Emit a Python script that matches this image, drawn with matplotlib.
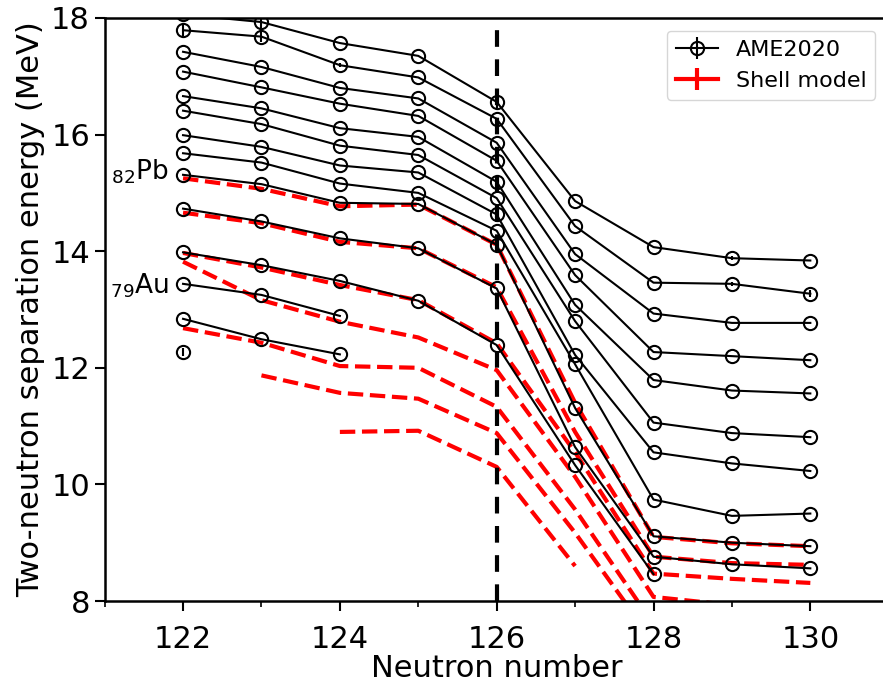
import numpy as np
import matplotlib
matplotlib.use("Agg")
import matplotlib.pyplot as plt
from matplotlib.ticker import MultipleLocator

nan = np.nan

# Neutron numbers shared by every chain
neutrons = [122, 123, 124, 125, 126, 127, 128, 129, 130]

# AME2020 two-neutron separation energies (MeV), one chain per element
ame_th = [18.06, 17.93, 17.57, 17.35, 16.56, 14.86, 14.07, 13.88, 13.84]
ame_ac = [17.79, 17.68, 17.19, 16.98, 16.27, 14.43, 13.46, 13.44, 13.27]
ame_ra = [17.42, 17.16, 16.80, 16.62, 15.86, 13.95, 12.93, 12.77, 12.77]
ame_fr = [17.08, 16.81, 16.53, 16.32, 15.55, 13.59, 12.27, 12.20, 12.13]
ame_rn = [16.66, 16.45, 16.11, 15.96, 15.19, 13.08, 11.79, 11.61, 11.56]
ame_at = [16.41, 16.18, 15.81, 15.65, 14.91, 12.80, 11.06, 10.88, 10.81]
ame_po = [15.99, 15.79, 15.47, 15.35, 14.63, 12.22, 10.55, 10.36, 10.23]
ame_bi = [15.68, 15.52, 15.16, 15.00, 14.35, 12.06, 9.74, 9.46, 9.50]
ame_pb = [15.31, 15.15, 14.83, 14.81, 14.11, 11.31, 9.11, 9.00, 8.94]
ame_tl = [14.73, 14.51, 14.22, 14.05, 13.36, 10.64, 8.76, 8.63, 8.56]
ame_hg = [13.98, 13.76, 13.49, 13.15, 12.39, 10.33, 8.46, nan, nan]
ame_au = [13.44, 13.25, 12.89, nan, nan, nan, nan, nan, nan]
ame_pt = [12.84, 12.49, 12.23, nan, nan, nan, nan, nan, nan]
ame_ir = [12.27, nan, nan, nan, nan, nan, nan, nan, nan]

# uncertainties large enough to show
err_th = [0.0, 0.10, 0.0, 0.0, 0.10, 0.0, 0.0, 0.03, 0.0]
err_ac = [0.10, 0.10, 0.03, 0.0, 0.0, 0.0, 0.0, 0.04, 0.06]
err_ir = [0.07, 0, 0, 0, 0, 0, 0, 0, 0]

# shell model results
sm_pb = [15.25, 15.07, 14.77, 14.80, 14.11, 11.40, 9.10, 8.99, 8.94]
sm_tl = [14.66, 14.48, 14.16, 14.05, 13.38, 10.90, 8.76, 8.65, 8.62]
sm_hg = [13.97, 13.72, 13.42, 13.16, 12.42, 10.55, 8.47, 8.38, 8.31]
sm_au = [13.82, 13.16, 12.79, 12.52, 11.96, 10.13, 8.07, 7.93, 7.88]
sm_pt = [12.68, 12.43, 12.03, 12.00, 11.33, 9.57, 7.60, nan, nan]
sm_ir = [nan, 11.87, 11.57, 11.47, 10.88, 9.17, 7.30, nan, nan]
sm_os = [nan, nan, 10.90, 10.92, 10.30, 8.60, nan, nan, nan]

ame_chains = [ame_th, ame_ac, ame_ra, ame_fr, ame_rn, ame_at, ame_po,
              ame_bi, ame_pb, ame_tl, ame_hg, ame_au, ame_pt, ame_ir]
ame_errs = {0: err_th, 1: err_ac, 13: err_ir}
sm_chains = [sm_pb, sm_tl, sm_hg, sm_au, sm_pt, sm_ir, sm_os]

fig = plt.figure(figsize=(8.83, 6.86), dpi=100)
ax = fig.add_axes([0.1185, 0.1239, 0.888, 0.8499])

for i, s2n in enumerate(ame_chains):
    yerr = ame_errs.get(i, None)
    ax.errorbar(neutrons, s2n, yerr=yerr, fmt='-o', color='black', lw=1.5,
                ms=9.5, mfc='none', mew=1.5, elinewidth=1.5, capsize=0)

for s2n in sm_chains:
    ax.plot(neutrons, s2n, '--', color='red', lw=3)

ax.axvline(126, color='black', lw=3, linestyle=(0, (4, 3)), zorder=5)

# legend entries
ax.errorbar([nan], [nan], yerr=[1], fmt='-o', color='black', lw=1.5, ms=9.5,
            mfc='none', mew=1.5, label='AME2020')
ax.errorbar([nan], [nan], yerr=[1], fmt='-', color='red', lw=3,
            elinewidth=3, label='Shell model')
ax.legend(loc='upper right', fontsize=16, handlelength=1.9,
          bbox_to_anchor=(0.997, 0.997))

ax.text(121.82, 15.36, r'$_{82}$Pb', fontsize=19, ha='right', va='center')
ax.text(121.82, 13.40, r'$_{79}$Au', fontsize=19, ha='right', va='center')

ax.set_xlim(121, 131)
ax.set_ylim(8, 18)
ax.xaxis.set_major_locator(MultipleLocator(2))
ax.xaxis.set_minor_locator(MultipleLocator(1))
ax.yaxis.set_major_locator(MultipleLocator(2))
ax.tick_params(which='major', labelsize=22, length=7, width=1.5)
ax.tick_params(axis='x', which='major', pad=10)
ax.tick_params(which='minor', length=4, width=1.2)
for sp in ax.spines.values():
    sp.set_linewidth(1.8)
ax.set_xlabel('Neutron number', fontsize=22, labelpad=0)
ax.set_ylabel('Two-neutron separation energy (MeV)', fontsize=22, labelpad=4)

fig.savefig('out.png', dpi=100)
